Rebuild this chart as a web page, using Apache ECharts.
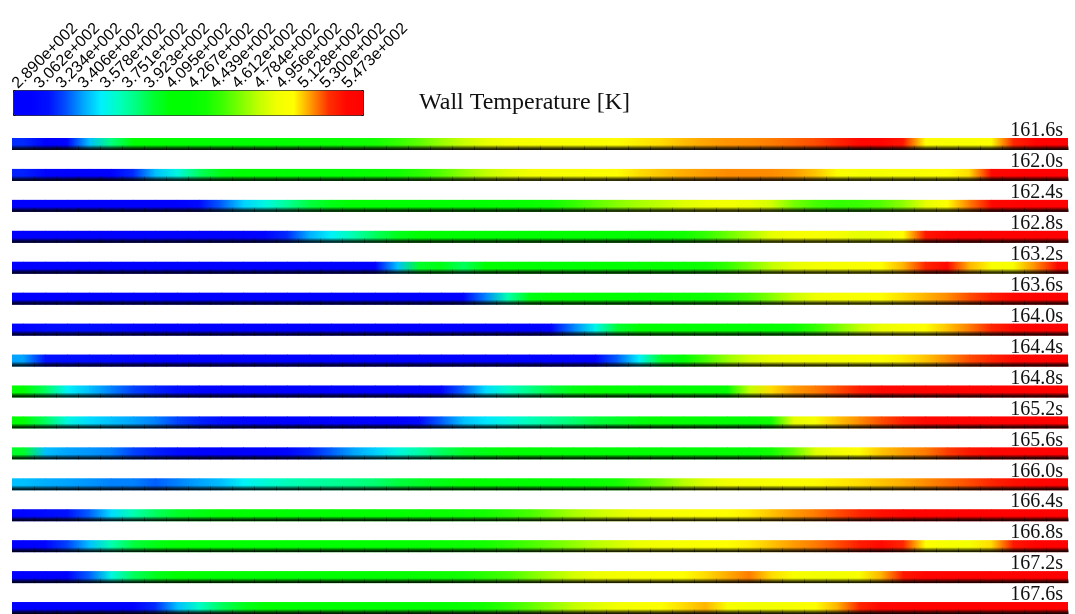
<!DOCTYPE html>
<html>
<head>
<meta charset="utf-8">
<title>Wall Temperature</title>
<script src="https://cdn.jsdelivr.net/npm/echarts@6.0.0/dist/echarts.min.js"></script>
<style>
  html, body { margin: 0; padding: 0; background: #fff; }
  #main { width: 1075px; height: 614px; }
</style>
</head>
<body>
<div id="main"></div>
<script>
// time steps, one strip per step (top -> bottom)
var times = ['161.6s', '162.0s', '162.4s', '162.8s', '163.2s', '163.6s', '164.0s', '164.4s',
  '164.8s', '165.2s', '165.6s', '166.0s', '166.4s', '166.8s', '167.2s', '167.6s'];

// 48 segments along the wall, left -> right
var segments = [];
for (var i = 1; i <= 48; i++) segments.push('S' + i);

// colour bar tick labels
var tickLabels = ['2.890e+002', '3.062e+002', '3.234e+002', '3.406e+002', '3.578e+002', '3.751e+002',
  '3.923e+002', '4.095e+002', '4.267e+002', '4.439e+002', '4.612e+002', '4.784e+002',
  '4.956e+002', '5.128e+002', '5.300e+002', '5.473e+002'];
var tMin = 289.0, tMax = 547.3;

// wall temperature [K] per segment
var t1616 = [320,298,305,345,380,405,410,412,415,415,418,420,420,422,425,428,432,440,450,462,472,480,485,488,490,490,492,495,498,500,504,507,509,510,512,515,518,525,535,540,530,495,490,490,495,525,543,545];
var t1620 = [318,305,298,296,298,320,345,360,385,400,408,412,415,415,418,420,425,430,438,448,460,470,478,485,488,490,492,495,500,503,506,508,510,510,510,508,503,492,488,488,490,492,495,500,535,542,545,545];
var t1624 = [300,298,297,296,296,297,298,300,310,330,348,360,375,390,400,408,412,415,415,418,420,420,422,425,430,440,450,458,465,470,478,482,485,482,475,455,445,440,442,448,460,480,495,512,535,542,545,545];
var t1628 = [300,298,297,296,296,296,296,297,297,298,300,305,320,342,355,370,385,398,405,410,412,415,415,418,418,420,420,420,422,425,430,440,452,465,480,488,490,488,480,482,495,530,542,545,545,545,545,545];
var t1632 = [298,300,302,302,300,298,297,297,297,297,297,297,297,297,297,298,300,345,395,400,385,405,412,415,418,418,420,420,422,422,425,430,440,455,470,480,485,488,490,495,505,525,538,505,490,490,510,540];
var t1636 = [297,298,300,300,298,297,297,296,297,297,298,297,296,297,297,298,297,296,297,297,298,335,370,400,410,415,418,420,420,422,425,428,435,445,458,472,482,488,490,495,500,505,510,518,528,538,543,545];
var t1640 = [305,310,312,312,310,305,300,297,297,296,297,298,297,296,297,297,298,297,296,297,297,298,297,298,305,335,358,392,405,410,412,415,418,418,420,425,440,455,470,482,488,495,503,512,525,535,542,545];
var t1644 = [340,315,312,310,308,305,300,298,297,298,298,297,296,297,298,298,297,296,297,298,298,297,296,297,298,298,300,330,355,395,412,445,462,475,482,486,488,490,492,495,498,503,510,518,525,535,542,545];
var t1648 = [410,385,355,345,335,325,318,312,305,300,298,298,298,298,298,298,298,298,298,305,330,350,365,378,390,400,405,408,410,412,415,418,420,470,500,508,512,518,528,535,538,540,542,543,544,545,545,545];
var t1652 = [405,385,360,350,345,340,335,325,318,312,305,300,298,298,298,298,298,300,310,330,345,352,360,368,375,382,390,395,402,408,410,412,415,418,430,480,490,503,510,518,528,535,540,542,543,545,545,545];
var t1656 = [395,345,340,338,335,325,318,310,305,300,298,300,305,318,330,340,348,360,372,385,395,400,405,408,410,410,412,412,415,415,418,418,420,420,430,450,478,487,495,503,508,512,520,530,536,540,543,545];
var t1660 = [345,342,340,338,335,335,330,335,340,345,355,362,368,372,375,378,382,390,395,400,405,410,412,415,418,420,425,432,445,455,468,478,485,486,490,492,496,498,500,503,506,510,514,518,525,532,538,542];
var t1664 = [305,310,315,330,350,370,385,395,400,405,408,410,412,415,415,418,420,420,422,425,428,432,438,445,455,465,472,478,484,488,490,492,495,498,503,508,512,518,525,532,538,542,543,545,545,545,545,545];
var t1668 = [300,305,325,345,370,390,400,405,408,410,412,412,415,415,418,418,420,420,422,425,428,432,438,445,452,460,468,475,482,486,490,492,495,498,503,508,512,518,528,535,525,495,488,488,500,530,542,545];
var t1672 = [300,298,300,330,360,385,398,405,408,410,412,412,415,415,418,418,420,422,425,428,432,438,445,455,465,475,482,486,490,492,495,500,506,512,500,490,485,485,490,505,530,540,542,543,545,545,545,545];
var t1676 = [300,298,297,297,298,300,320,345,365,385,398,405,408,410,412,412,415,415,418,420,425,432,440,450,460,470,478,485,490,495,500,505,490,485,485,488,495,505,525,540,543,545,545,545,545,545,545,545];

var wallTemp = [t1616, t1620, t1624, t1628, t1632, t1636, t1640, t1644,
  t1648, t1652, t1656, t1660, t1664, t1668, t1672, t1676];

// [segment, time, temperature]
var cells = [];
wallTemp.forEach(function (row, r) {
  row.forEach(function (v, c) {
    cells.push([c, r, v]);
  });
});

var chart = echarts.init(document.getElementById('main'));

// one strip piece: colour blends from this segment's centre to the next one's
function renderStrip(params, api) {
  var idx = params.dataIndexInside;
  var c = api.coord([api.value(0), api.value(1)]);
  var w = api.size([1, 0])[0];
  var h = 12;
  var top = c[1] - h / 2;
  var col = api.visual('color');
  var children = [];
  var first = api.value(0) === 0;
  var last = api.value(0) === segments.length - 1;
  if (first) {
    children.push({ type: 'rect', shape: { x: c[0] - w / 2, y: top, width: w / 2 + 0.5, height: h }, style: { fill: col } });
  }
  if (!last) {
    var next = api.visual('color', idx + 1);
    children.push({
      type: 'rect',
      shape: { x: c[0], y: top, width: w + 0.6, height: h },
      style: { fill: new echarts.graphic.LinearGradient(0, 0, 1, 0, [{ offset: 0, color: col }, { offset: 1, color: next }]) }
    });
  } else {
    children.push({ type: 'rect', shape: { x: c[0], y: top, width: w / 2, height: h }, style: { fill: col } });
  }
  // dark shading on the lower edge of the wall
  children.push({
    type: 'rect',
    shape: { x: c[0] - w / 2, y: top + h - 5, width: w + 0.6, height: 5 },
    style: { fill: new echarts.graphic.LinearGradient(0, 0, 0, 1, [{ offset: 0, color: 'rgba(0,0,0,0)' }, { offset: 0.6, color: 'rgba(0,0,0,0.7)' }, { offset: 1, color: 'rgba(0,0,0,0.95)' }]) }
  });
  return { type: 'group', children: children };
}

var option = {
  backgroundColor: '#fff',
  animation: false,
  title: {
    text: 'Wall Temperature [K]',
    left: 419,
    top: 91,
    padding: 0,
    textStyle: { fontFamily: 'Liberation Serif', fontSize: 24, fontWeight: 'normal', color: '#111' }
  },
  visualMap: {
    type: 'continuous',
    min: tMin,
    max: tMax,
    dimension: 2,
    seriesIndex: 0,
    orient: 'horizontal',
    left: 13,
    top: 90,
    itemWidth: 25,
    itemHeight: 350,
    padding: 0,
    text: null,
    calculable: false,
    hoverLink: false,
    borderColor: '#000',
    borderWidth: 1,
    inRange: {
      color: ['#0000ff', '#0000ff', '#0010ff', '#0050ff', '#00a8ff', '#00f0ff', '#00ffc0',
        '#00ff80', '#00ff30', '#00ff00', '#00ff00', '#10ff00', '#40ff00', '#80ff00',
        '#c0ff00', '#f0ff00', '#ffff00', '#ff9800', '#ff3000', '#ff0800', '#ff0000']
    }
  },
  grid: [
    { left: 12, top: 128.5, width: 1056, height: 495, outerBoundsMode: 'none' },
    // colour bar labels
    { left: 15, top: 90, width: 330, height: 25, outerBoundsMode: 'none' },
    // colour bar ruler
    { left: 13, top: 90, width: 350, height: 25, outerBoundsMode: 'none' }
  ],
  xAxis: [
    { type: 'category', data: segments, gridIndex: 0, show: false },
    {
      type: 'category', gridIndex: 1, data: tickLabels, boundaryGap: false, position: 'top',
      axisLine: { show: false }, axisTick: { show: false }, splitLine: { show: false },
      axisLabel: {
        interval: 0, rotate: 45, margin: 4, color: '#000', fontFamily: 'Liberation Sans', fontSize: 16,
        hideOverlap: false
      }
    },
    {
      type: 'value', gridIndex: 2, min: 0, max: 60, interval: 1, position: 'top',
      axisLine: { show: false }, splitLine: { show: false }, axisLabel: { show: false },
      axisTick: { length: 3, lineStyle: { color: '#333', width: 0.6 } }
    }
  ],
  yAxis: [
    {
      type: 'category', data: times, gridIndex: 0, inverse: true, position: 'right',
      axisLine: { show: false }, axisTick: { show: false }, splitLine: { show: false },
      axisLabel: {
        inside: true, margin: 5, verticalAlign: 'bottom', padding: [0, 0, 3, 0],
        fontFamily: 'Liberation Serif', fontSize: 20, color: '#111'
      }
    },
    { type: 'value', gridIndex: 1, show: false },
    { type: 'value', gridIndex: 2, show: false }
  ],
  series: [{
    type: 'custom',
    name: 'Wall Temperature',
    xAxisIndex: 0,
    yAxisIndex: 0,
    renderItem: renderStrip,
    data: cells
  }]
};

chart.setOption(option);
</script>
</body>
</html>
